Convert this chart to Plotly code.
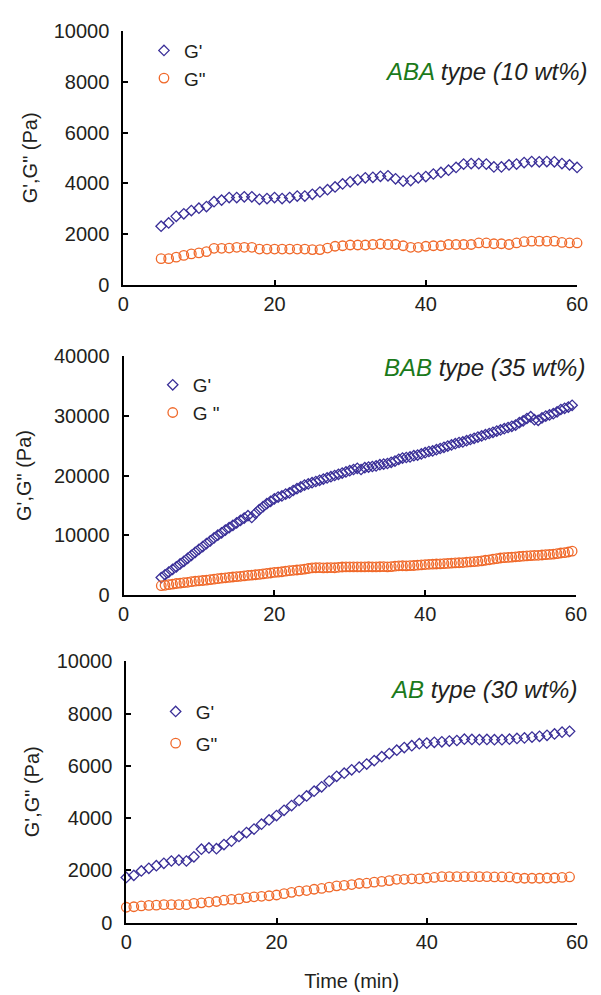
import numpy as np
import plotly.graph_objects as go

# ---------------- data ----------------
# Panel 1: ABA type (10 wt%), one point per minute from 5 to 60 min
time_aba = list(range(5, 61))
gp_aba = [2310, 2440, 2700, 2800, 2930, 3020, 3085, 3280, 3340, 3440,
          3440, 3470, 3470, 3370, 3400, 3440, 3400, 3440, 3500, 3500,
          3570, 3660, 3750, 3860, 3980, 4060, 4140, 4220, 4240, 4280,
          4300, 4180, 4090, 4110, 4220, 4270, 4370, 4430, 4520, 4630,
          4760, 4780, 4780, 4760, 4650, 4650, 4730, 4760, 4820, 4860,
          4850, 4860, 4850, 4780, 4730, 4630]
gpp_aba = [1030, 1030, 1090, 1160, 1220, 1260, 1310, 1440, 1440, 1450,
           1480, 1480, 1480, 1410, 1410, 1410, 1410, 1410, 1410, 1410,
           1390, 1390, 1450, 1520, 1540, 1570, 1570, 1570, 1590, 1610,
           1590, 1590, 1540, 1480, 1480, 1520, 1540, 1540, 1590, 1590,
           1590, 1590, 1650, 1650, 1620, 1620, 1590, 1650, 1700, 1720,
           1720, 1720, 1720, 1670, 1650, 1650]

# Panel 2: BAB type (35 wt%), sampled every 0.5 min from 5 to 59.5 min
time_bab = list(np.arange(5.0, 60.0, 0.5))
gp_bab = [2990, 3450, 3900, 4350, 4780, 5250, 5700, 6200, 6700, 7200,
          7700, 8150, 8650, 9100, 9600, 10050, 10450, 10900, 11300, 11700,
          12100, 12500, 12900, 13300, 13000, 13700, 14300, 14800, 15300, 15700,
          16100, 16400, 16600, 16900, 17100, 17500, 17800, 18100, 18400, 18600,
          18800, 19000, 19200, 19400, 19600, 19800, 20000, 20200, 20400, 20600,
          20800, 21000, 21200, 21000, 21300, 21400, 21500, 21600, 21800, 21900,
          22000, 22200, 22400, 22700, 22900, 23000, 23100, 23300, 23400, 23600,
          23800, 24000, 24100, 24300, 24500, 24700, 24900, 25100, 25300, 25500,
          25600, 25800, 26000, 26200, 26400, 26600, 26800, 27000, 27200, 27400,
          27600, 27800, 28000, 28200, 28400, 28800, 29100, 29500, 29800, 29300,
          29200, 29600, 29900, 30100, 30300, 30600, 31000, 31200, 31400, 31700]
gpp_bab = [1630, 1700, 1800, 1900, 2000, 2070, 2150, 2200, 2300, 2380,
           2450, 2500, 2560, 2650, 2720, 2800, 2880, 2950, 3020, 3080,
           3150, 3200, 3280, 3350, 3400, 3460, 3530, 3600, 3680, 3750,
           3860, 3900, 3960, 4050, 4130, 4200, 4250, 4320, 4400, 4500,
           4600, 4620, 4630, 4600, 4620, 4640, 4620, 4700, 4750, 4760,
           4780, 4770, 4780, 4760, 4780, 4790, 4780, 4770, 4790, 4800,
           4780, 4820, 4880, 4950, 4960, 4920, 4980, 5000, 5050, 5100,
           5160, 5200, 5230, 5250, 5280, 5300, 5350, 5400, 5430, 5460,
           5490, 5550, 5600, 5650, 5700, 5780, 5870, 5950, 6050, 6150,
           6250, 6300, 6350, 6400, 6450, 6500, 6550, 6600, 6650, 6680,
           6700, 6750, 6800, 6850, 6900, 6980, 7080, 7150, 7250, 7390]

# Panel 3: AB type (30 wt%), one point per minute from 0 to 59 min
time_ab = list(range(0, 60))
gp_ab = [1730, 1810, 1980, 2080, 2180, 2270, 2360, 2390, 2360, 2520,
         2810, 2860, 2830, 2990, 3120, 3300, 3450, 3580, 3770, 3930,
         4100, 4300, 4480, 4680, 4850, 5030, 5200, 5420, 5600, 5720,
         5850, 5950, 6070, 6200, 6350, 6470, 6600, 6700, 6770, 6850,
         6870, 6900, 6920, 6950, 6970, 7020, 7010, 7000, 7010, 7000,
         7000, 7020, 7050, 7070, 7100, 7130, 7170, 7220, 7290, 7320]
gpp_ab = [590, 610, 640, 660, 670, 690, 690, 690, 690, 740,
          760, 790, 810, 860, 890, 910, 960, 990, 1010, 1030,
          1060, 1110, 1160, 1210, 1230, 1280, 1310, 1360, 1410, 1430,
          1460, 1500, 1510, 1550, 1580, 1610, 1660, 1660, 1680, 1680,
          1710, 1730, 1760, 1760, 1760, 1760, 1760, 1760, 1760, 1750,
          1750, 1750, 1710, 1700, 1700, 1700, 1710, 1710, 1730, 1750]

panel_labels = ["ABA", "BAB", "AB"]
panel_suffix = [" type (10 wt%)", " type (35 wt%)", " type (30 wt%)"]
legend_gp = ["G'", "G'", "G'"]
legend_gpp = ['G"', 'G "', 'G"']
y_ranges = [[0, 10000], [0, 40000], [0, 10000]]
y_dticks = [2000, 10000, 2000]
x_tickvals = [0, 20, 40, 60]

# ---------------- styling ----------------
W, H = 601, 995
BLUE = "#3a2f98"
ORANGE = "#f0692a"
GREEN = "#1b7a1b"
TXT = "#231f20"
FONT = "Liberation Sans, Arial, sans-serif"

def px_x(p):
    return p / W

def px_y(p):
    return 1 - p / H

x_domains = [[px_x(120.7), px_x(587.7)], [px_x(121.0), px_x(586.5)], [px_x(123.8), px_x(587.7)]]
y_domains = [[px_y(280.0), px_y(20.7)], [px_y(597.7), px_y(352.3)], [px_y(932.3), px_y(665.0)]]

series = [(time_aba, gp_aba, gpp_aba), (time_bab, gp_bab, gpp_bab), (time_ab, gp_ab, gpp_ab)]

fig = go.Figure()
legend_names = ["legend", "legend2", "legend3"]
for i, (t, gp, gpp) in enumerate(series):
    xa = "x" if i == 0 else f"x{i+1}"
    ya = "y" if i == 0 else f"y{i+1}"
    fig.add_trace(go.Scatter(
        x=t, y=gp, mode="markers", name=legend_gp[i], xaxis=xa, yaxis=ya,
        legend=legend_names[i], legendgroup=f"gp{i}", cliponaxis=False,
        marker=dict(symbol="diamond-open", size=8, color=BLUE, line=dict(width=1.3, color=BLUE)),
    ))
    fig.add_trace(go.Scatter(
        x=t, y=gpp, mode="markers", name=legend_gpp[i], xaxis=xa, yaxis=ya,
        legend=legend_names[i], legendgroup=f"gpp{i}", cliponaxis=False,
        marker=dict(symbol="circle-open", size=9.5, color=ORANGE, line=dict(width=1.3, color=ORANGE)),
    ))

axis_common = dict(
    showline=True, linecolor="black", linewidth=2,
    ticks="inside", ticklen=5, tickwidth=2, tickcolor="black",
    showgrid=False, zeroline=False, mirror=False,
    tickfont=dict(family=FONT, size=20, color=TXT),
)

layout = dict(
    width=W, height=H, autosize=False,
    margin=dict(l=0, r=0, t=0, b=0),
    paper_bgcolor="white", plot_bgcolor="white",
    font=dict(family=FONT, color=TXT),
    showlegend=True,
)

legend_pos = [(142, 21), (151, 363), (154, 697)]
legend_gaps = [0, 0, 4]
for i in range(3):
    xk = "xaxis" if i == 0 else f"xaxis{i+1}"
    yk = "yaxis" if i == 0 else f"yaxis{i+1}"
    ya = "y" if i == 0 else f"y{i+1}"
    xa = "x" if i == 0 else f"x{i+1}"
    layout[xk] = dict(axis_common, domain=x_domains[i], range=[0, 60], tickvals=x_tickvals,
                      anchor=ya)
    layout[yk] = dict(axis_common, domain=y_domains[i], range=y_ranges[i], dtick=y_dticks[i],
                      tickformat="d", anchor=xa, ticklabelstandoff=8)
    lx, ly = legend_pos[i]
    layout[legend_names[i]] = dict(
        x=px_x(lx), y=px_y(ly), xanchor="left", yanchor="top",
        bgcolor="rgba(0,0,0,0)", borderwidth=0,
        font=dict(family=FONT, size=19, color=TXT),
        traceorder="grouped", tracegroupgap=legend_gaps[i], itemwidth=30,
    )

layout["xaxis3"]["title"] = dict(text="Time (min)", font=dict(family=FONT, size=20, color=TXT), standoff=22)

annotations = []
ann_right = [601, 598, 590]
ann_y = [62, 365, 694]
title_x = [25, 19, 27]
for i in range(3):
    annotations.append(dict(
        xref="paper", yref="paper", x=px_x(ann_right[i]), y=px_y(ann_y[i]),
        xanchor="right", yanchor="middle", showarrow=False,
        text=f"<i><span style='color:{GREEN}'>{panel_labels[i]}</span>{panel_suffix[i]}</i>",
        font=dict(family=FONT, size=24, color=TXT),
    ))
    yc = (y_domains[i][0] + y_domains[i][1]) / 2
    annotations.append(dict(
        xref="paper", yref="paper", x=px_x(title_x[i]), y=yc,
        xanchor="center", yanchor="middle", showarrow=False, textangle=-90,
        text='G\',G" (Pa)', font=dict(family=FONT, size=20, color=TXT),
    ))
layout["annotations"] = annotations

fig.update_layout(**layout)
fig.write_html(
    "out.html",
    config={"displayModeBar": False},
    post_script="document.body.style.margin='0';document.body.style.padding='0';"
                "document.body.style.overflow='hidden';",
)
